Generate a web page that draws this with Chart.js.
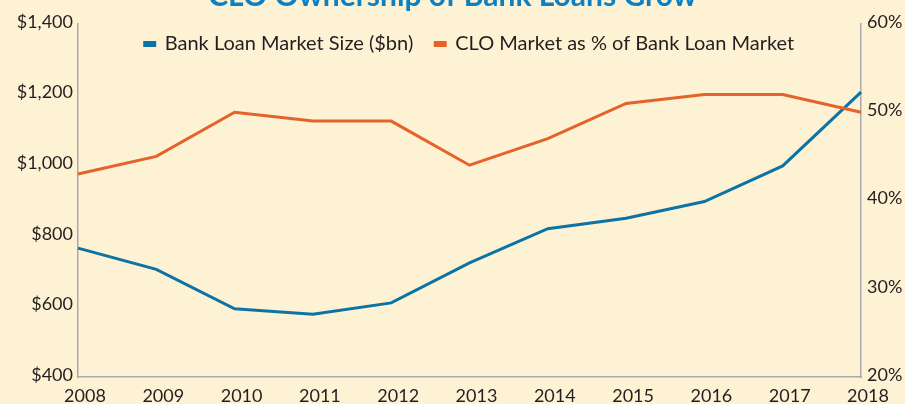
<!DOCTYPE html>
<html>
<head>
<meta charset="utf-8">
<script src="https://cdn.jsdelivr.net/npm/chart.js@4/dist/chart.umd.min.js"></script>
<style>
  html, body { margin: 0; padding: 0; background: #fef2d4; }
  #wrap { position: relative; width: 905px; height: 404px; overflow: hidden; }
  #chart { position: absolute; left: 0; top: -22px; }
</style>
</head>
<body>
<div id="wrap"><canvas id="chart" width="905" height="426"></canvas></div>
<script>
// Dados do gráfico
const years = ["2008", "2009", "2010", "2011", "2012", "2013", "2014", "2015", "2016", "2017", "2018"]
const loanMarketSize = [765, 705, 593, 578, 610, 723, 820, 850, 897, 998, 1207]
const cloSharePct = [43, 45, 50, 49, 49, 44, 47, 51, 52, 52, 50]
const leftTicks = [400, 600, 800, 1000, 1200, 1400]
const rightTicks = [20, 30, 40, 50, 60]

const BLUE = "#0d73a5"
const ORANGE = "#e5622b"
const AXIS = "#a7a9ab"

Chart.defaults.font.family = "Lato, 'Open Sans', sans-serif"
Chart.defaults.font.size = 18
Chart.defaults.color = "#231f20"

// Legenda desenhada dentro da área do gráfico, sem ocupar espaço no layout
const legendInPlot = {
  id: "legendInPlot",
  beforeLayout(chart) {
    const legend = chart.legend
    if (!legend || legend._inPlot) return
    const fit = legend.fit
    legend.fit = function () {
      fit.call(this)
      this._realHeight = this.height
      this.height = 0
    }
    legend._inPlot = true
  },
  afterLayout(chart) {
    const legend = chart.legend
    const area = chart.chartArea
    if (!legend) return
    legend.left = area.left
    legend.right = area.right
    legend.top = area.top - 12
    legend.bottom = legend.top + (legend._realHeight || 60)
  },
}

const ctx = document.getElementById("chart").getContext("2d")

new Chart(ctx, {
  type: "line",
  data: {
    labels: years,
    datasets: [
      {
        label: "Bank Loan Market Size ($bn)",
        data: loanMarketSize,
        yAxisID: "y",
        borderColor: BLUE,
        backgroundColor: BLUE,
        borderWidth: 3,
        pointRadius: 0,
        tension: 0,
        order: 1,
      },
      {
        label: "CLO Market as % of Bank Loan Market",
        data: cloSharePct,
        yAxisID: "y1",
        borderColor: ORANGE,
        backgroundColor: ORANGE,
        borderWidth: 3,
        pointRadius: 0,
        tension: 0,
        order: 0,
      },
    ],
  },
  plugins: [legendInPlot],
  options: {
    responsive: false,
    animation: false,
    devicePixelRatio: 1,
    layout: { padding: 0 },
    plugins: {
      title: {
        display: true,
        text: "CLO Ownership of Bank Loans Grow",
        color: "#0c80c2",
        font: { size: 30, weight: "bold" },
        padding: { top: 0, bottom: 10 },
      },
      legend: {
        position: "top",
        align: "center",
        labels: {
          boxWidth: 10,
          boxHeight: 3,
          padding: 22,
          color: "#231f20",
          font: { size: 20 },
          sort: (a, b) => a.datasetIndex - b.datasetIndex,
        },
      },
      tooltip: { enabled: false },
    },
    scales: {
      x: {
        offset: false,
        grid: { display: false, drawTicks: false },
        border: { display: true, color: AXIS, width: 1.5 },
        ticks: { padding: 8, labelOffset: 7, maxRotation: 0, autoSkip: false },
        afterFit: (scale) => { scale.height = 27 },
      },
      y: {
        position: "left",
        min: 400,
        max: 1400,
        grid: { display: false, drawTicks: false },
        border: { display: true, color: AXIS, width: 1.5 },
        afterBuildTicks: (scale) => { scale.ticks = leftTicks.map((v) => ({ value: v })) },
        ticks: {
          padding: 5,
          labelOffset: -2,
          callback: (value) => "$" + value.toLocaleString("en-US"),
        },
        afterFit: (scale) => { scale.width = 78 },
      },
      y1: {
        position: "right",
        min: 20,
        max: 60,
        grid: { display: false, drawTicks: false },
        border: { display: true, color: AXIS, width: 1.5 },
        afterBuildTicks: (scale) => { scale.ticks = rightTicks.map((v) => ({ value: v })) },
        ticks: {
          padding: 6,
          labelOffset: -2,
          callback: (value) => value + "%",
        },
        afterFit: (scale) => { scale.width = 44 },
      },
    },
  },
})
</script>
</body>
</html>
